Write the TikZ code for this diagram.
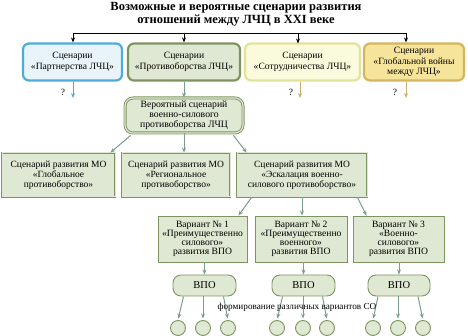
\documentclass[tikz,border=0pt]{standalone}
\usepackage{fontspec}
\setmainfont{Liberation Serif}
\usetikzlibrary{arrows.meta}
\definecolor{blueB}{HTML}{4FAADC}
\definecolor{blueF}{HTML}{E8F4FA}
\definecolor{grnB}{HTML}{7E9460}
\definecolor{grnF}{HTML}{DFE8D2}
\definecolor{yelB}{HTML}{E2E29A}
\definecolor{yelF}{HTML}{FAFADC}
\definecolor{gldB}{HTML}{D4B45C}
\definecolor{gldF}{HTML}{F6E49A}
\definecolor{arrC}{HTML}{7A9E8C}
\definecolor{tanC}{HTML}{C8B070}
\tikzset{
  topbox/.style={rounded corners=6pt, line width=2.2pt, minimum height=37pt, align=center, inner sep=1pt, font=\fontsize{9.6}{10.8}\selectfont},
  midbox/.style={rounded corners=8pt, draw=grnB, double=grnF, double distance=1.2pt, line width=0.9pt, fill=grnF, minimum height=35pt, align=center, inner sep=1pt, font=\fontsize{9.7}{10.2}\selectfont},
  lvlbox/.style={draw=grnB, double=grnF, double distance=1pt, line width=0.8pt, fill=grnF, minimum height=44pt, align=center, inner sep=1pt, font=\fontsize{9.5}{10.2}\selectfont},
  varbox/.style={draw=grnB, line width=0.9pt, fill=grnF, minimum height=46pt, align=center, inner sep=1pt, font=\fontsize{9.6}{9.2}\selectfont},
  vpobox/.style={draw=grnB, line width=0.9pt, fill=grnF, rounded corners=8pt, minimum height=21pt, align=center, font=\fontsize{10.5}{11}\selectfont},
  circ/.style={circle, draw=grnB, line width=0.9pt, fill=grnF, minimum size=15pt, inner sep=0pt},
  blk/.style={line width=0.9pt, -{Stealth[length=5pt,width=4pt]}},
  garr/.style={draw=arrC, line width=1pt, -{Stealth[length=5pt,width=4pt]}},
  qlab/.style={font=\fontsize{9.5}{10}\selectfont, inner sep=0pt},
}
\begin{document}
\begin{tikzpicture}[x=1pt,y=-1pt]
\useasboundingbox (0,0) rectangle (468,336);
\node[font=\bfseries\fontsize{12.5}{13.5}\selectfont, align=center] (title) at (236,14.5) {Возможные и вероятные сценарии развития\\отношений между ЛЧЦ в XXI веке};

\node[topbox, draw=blueB, fill=blueF, minimum width=99pt] (b1) at (72.5,62) {Сценарии\\«Партнерства ЛЧЦ»};
\node[topbox, draw=grnB, fill=grnF, minimum width=112pt] (b2) at (184,62) {Сценарии\\«Противоборства ЛЧЦ»};
\node[topbox, draw=yelB, fill=yelF, minimum width=115pt] (b3) at (302.5,62) {Сценарии\\«Сотрудничества ЛЧЦ»};
\node[topbox, draw=gldB, fill=gldF, minimum width=100pt] (b4) at (414,62) {Сценарии\\«Глобальной войны\\между ЛЧЦ»};

\coordinate (t1) at (73,33);
\coordinate (t4) at (406,33);
\draw[line width=0.9pt] (t1) -- (t4);
\draw[blk] (t1) -- (t1 |- b1.north);
\draw[blk] (b2.north |- t1) -- (b2.north);
\draw[blk] (298,33) -- (298,43.5);
\draw[blk] (t4) -- (t4 |- b4.north);

\node[midbox, minimum width=118pt] (m) at (184,115.5) {Вероятный сценарий\\военно-силового\\противоборства ЛЧЦ};

\coordinate (q1) at (73,98);
\coordinate (q3) at (300,98);
\coordinate (q4) at (406,98);
\draw[draw=blueB, line width=1pt, -{Stealth[length=5pt,width=4pt]}] (q1 |- b1.south) -- (q1);
\draw[draw=tanC, line width=1pt, -{Stealth[length=5pt,width=4pt]}] (q3 |- b3.south) -- (q3);
\draw[draw=tanC, line width=1pt, -{Stealth[length=5pt,width=4pt]}] (q4 |- b4.south) -- (q4);
\draw[garr] (b2.south) -- (m.north);
\node[qlab] (qm1) at (63,92) {?};
\node[qlab] (qm3) at (291,92) {?};
\node[qlab] (qm4) at (395,92) {?};

\node[lvlbox, minimum width=113pt] (A) at (58.5,175) {Сценарий развития МО\\«Глобальное\\противоборство»};
\node[lvlbox, minimum width=108pt] (B) at (176,175) {Сценарий развития МО\\«Региональное\\противоборство»};
\node[lvlbox, minimum width=130pt] (C) at (302,175) {Сценарий развития МО\\«Эскалация военно-\\силового противоборство»};

\draw[garr] ([xshift=6pt,yshift=-2pt]m.south west) -- ([xshift=-5pt]A.north east);
\draw[garr] (m.south) -- (m.south |- B.north);
\draw[garr] ([xshift=-10pt,yshift=-2pt]m.south east) -- ([xshift=10pt]C.north west);

\node[varbox, minimum width=89pt] (V1) at (202.5,239) {Вариант № 1\\«Преимущественно\\силового»\\развития ВПО};
\node[varbox, minimum width=92pt] (V2) at (301,239) {Вариант № 2\\«Преимущественно\\военного»\\развития ВПО};
\node[varbox, minimum width=91pt] (V3) at (398.5,239) {Вариант № 3\\«Военно-\\силового»\\развития ВПО};

\draw[garr] ([xshift=15pt]C.south west) -- ([xshift=-9pt]V1.north east);
\draw[garr] (C.south) -- (C.south |- V2.north);
\draw[garr] ([xshift=-10pt]C.south east) -- ([xshift=14pt]V3.north west);

\node[vpobox, minimum width=63pt] (P1) at (204.5,285.5) {ВПО};
\node[vpobox, minimum width=63pt] (P2) at (303.5,285.5) {ВПО};
\node[vpobox, minimum width=62pt] (P3) at (399,285.5) {ВПО};

\draw[garr] (V1.south -| P1.north) -- (P1.north);
\draw[garr] (V2.south -| P2.north) -- (P2.north);
\draw[garr] (V3.south -| P3.north) -- (P3.north);

\foreach \n/\x in {11/178,12/203,13/228,21/277,22/303,23/327,31/373,32/398,33/423}{
  \node[circ] (c\n) at (\x,328) {};
}
\foreach \p/\a/\b/\c in {P1/11/12/13,P2/21/22/23,P3/31/32/33}{
  \draw[garr, shorten >=1.5pt] ([xshift=-21pt]\p.south) -- (c\a.north);
  \draw[garr, shorten >=1.5pt] (\p.south -| c\b.north) -- (c\b.north);
  \draw[garr, shorten >=1.5pt] ([xshift=19pt]\p.south) -- (c\c.north);
}

\node[font=\fontsize{9.2}{10}\selectfont, inner sep=0pt] (lab) at (297,307) {формирование различных вариантов СО};
\end{tikzpicture}
\end{document}
